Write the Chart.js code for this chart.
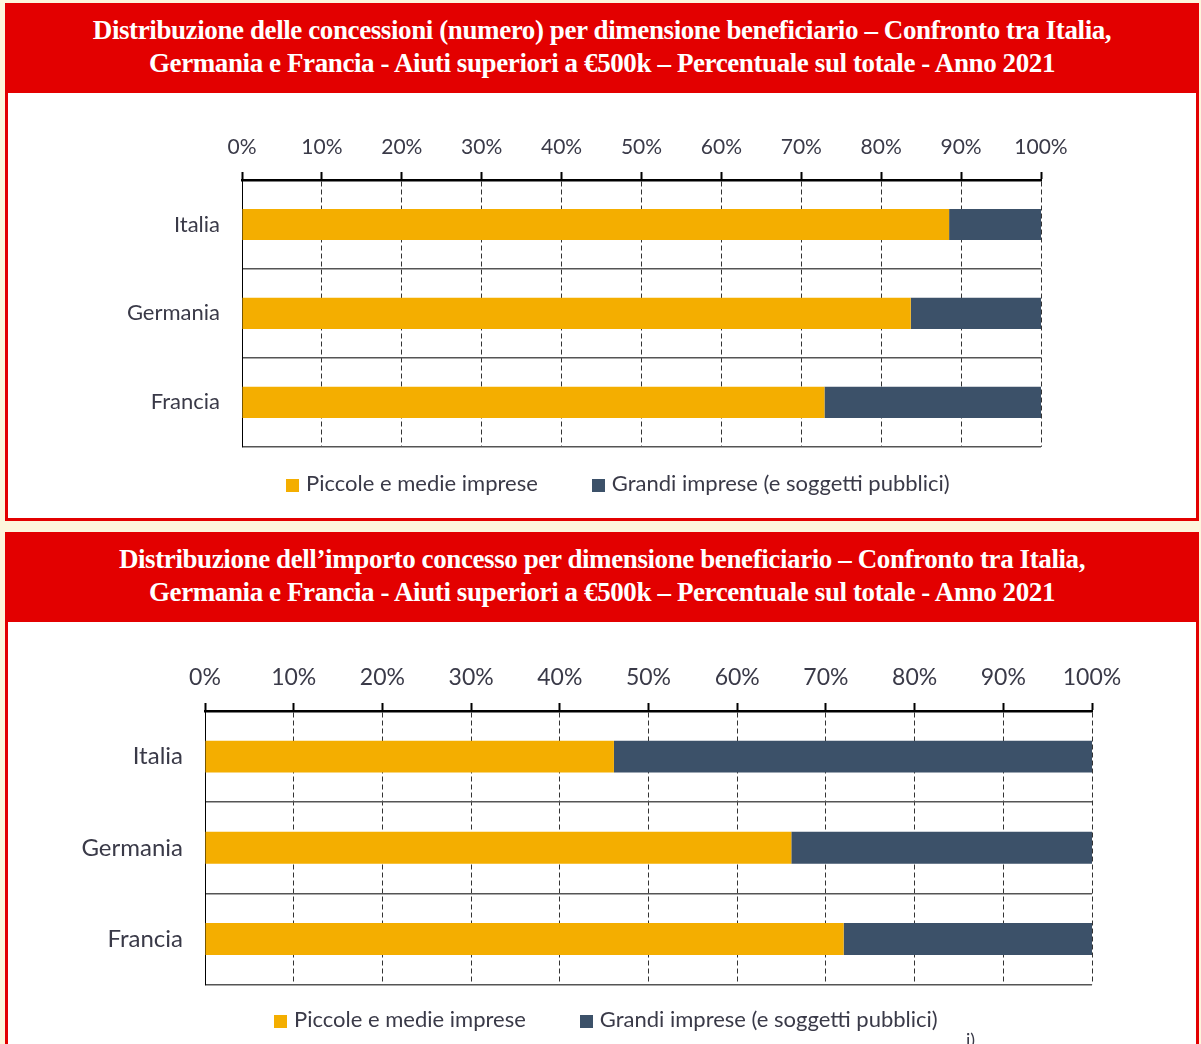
<!DOCTYPE html>
<html lang="it">
<head>
<meta charset="utf-8">
<script src="https://cdn.jsdelivr.net/npm/chart.js@4/dist/chart.umd.min.js"></script>
<style>
  html, body { margin: 0; padding: 0; }
  body { width: 1201px; height: 1044px; background: #fdf6dc; position: relative; overflow: hidden; font-family: Lato, "Open Sans", sans-serif; }
  .panel { position: absolute; left: 5px; width: 1188px; border: 3px solid #e30000; background: #fff; }
  .header { background: #e30000; color: #fff; text-align: center; font-family: "Liberation Serif", serif; font-weight: bold; font-size: 27px; line-height: 33px; padding-top: 8px; box-sizing: border-box; height: 87px; letter-spacing: -0.4px; white-space: nowrap; }
  .chartBox { position: absolute; left: 0; width: 1188px; }
  .legend { position: absolute; display: flex; gap: 54px; font-size: 22px; line-height: 26px; color: #3a3a48; white-space: nowrap; }
  .legend span.box { display: inline-block; width: 13px; height: 13px; margin-right: 7px; vertical-align: -1px; }
  .note { position: absolute; left: 966px; top: 1028px; font-size: 18px; color: #3a3a48; }
</style>
</head>
<body>
<div class="panel" id="panel1" style="top:3px; height:512px;">
  <div class="header">Distribuzione delle concessioni (numero) per dimensione beneficiario – Confronto tra Italia,<br>Germania e Francia - Aiuti superiori a €500k – Percentuale sul totale - Anno 2021</div>
  <div class="chartBox" style="top:87px; height:389px;"><canvas id="chart1"></canvas></div>
  <div class="legend" id="legend1" style="left:278px; top:464px;"></div>
</div>
<div class="panel" id="panel2" style="top:532px; height:520px;">
  <div class="header">Distribuzione dell’importo concesso per dimensione beneficiario – Confronto tra Italia,<br>Germania e Francia - Aiuti superiori a €500k – Percentuale sul totale - Anno 2021</div>
  <div class="chartBox" style="top:87px; height:399px;"><canvas id="chart2"></canvas></div>
  <div class="legend" id="legend2" style="left:266px; top:471px;"></div>
</div>
<div class="note">i)</div>

<script>
const paesi = ['Italia', 'Germania', 'Francia'];
const serieNomi = ['Piccole e medie imprese', 'Grandi imprese (e soggetti pubblici)'];
const serieColori = ['#f4ae00', '#3c5169'];

// grafico 1: numero di concessioni (%)
const pmiNumero = [88.5, 83.7, 72.9];
const grandiNumero = [11.5, 16.3, 27.1];

// grafico 2: importo concesso (%)
const pmiImporto = [46.1, 66.1, 72.0];
const grandiImporto = [53.9, 33.9, 28.0];

const testoColore = '#3a3a48';

function buildChart(canvasId, pmi, grandi, opts) {
    const ctx = document.getElementById(canvasId).getContext('2d');
    return new Chart(ctx, {
        type: 'bar',
        data: {
            labels: paesi,
            datasets: [
                { label: serieNomi[0], data: pmi, backgroundColor: serieColori[0] },
                { label: serieNomi[1], data: grandi, backgroundColor: serieColori[1] }
            ]
        },
        options: {
            indexAxis: 'y',
            responsive: true,
            maintainAspectRatio: false,
            animation: false,
            categoryPercentage: 1,
            barPercentage: 0.35,
            layout: { padding: { right: opts.padRight, bottom: 0, top: 0, left: 0 } },
            plugins: { legend: { display: false }, tooltip: { enabled: false } },
            scales: {
                x: {
                    position: 'top',
                    stacked: true,
                    min: 0,
                    max: 100,
                    afterFit: s => { s.height = opts.axisTop; },
                    ticks: {
                        stepSize: 10,
                        autoSkip: false,
                        maxRotation: 0,
                        padding: 12,
                        color: testoColore,
                        font: { family: 'Lato', size: opts.tickSize },
                        callback: v => v + '%'
                    },
                    grid: {
                        color: '#333',
                        lineWidth: 1,
                        tickLength: 8,
                        tickColor: '#000',
                        tickWidth: 2,
                        tickBorderDash: []
                    },
                    border: { display: true, color: '#000', width: 2.5, dash: [5, 3] }
                },
                y: {
                    stacked: true,
                    afterFit: s => { s.width = opts.axisLeft; },
                    ticks: {
                        padding: 22,
                        color: testoColore,
                        font: { family: 'Lato', size: opts.labelSize }
                    },
                    grid: { color: '#555', lineWidth: 1.5, drawTicks: false, offset: true },
                    border: { display: true, color: '#000', width: 1 }
                }
            }
        }
    });
}

function buildLegend(id) {
    const el = document.getElementById(id);
    serieNomi.forEach((nome, i) => {
        const item = document.createElement('div');
        item.innerHTML = `<span class="box" style="background:${serieColori[i]}"></span>${nome}`;
        el.appendChild(item);
    });
}

buildChart('chart1', pmiNumero, grandiNumero, { axisLeft: 234, axisTop: 87, padRight: 155, tickSize: 21, labelSize: 22 });
buildChart('chart2', pmiImporto, grandiImporto, { axisLeft: 197, axisTop: 89, padRight: 104, tickSize: 23, labelSize: 24 });
buildLegend('legend1');
buildLegend('legend2');
</script>
</body>
</html>
